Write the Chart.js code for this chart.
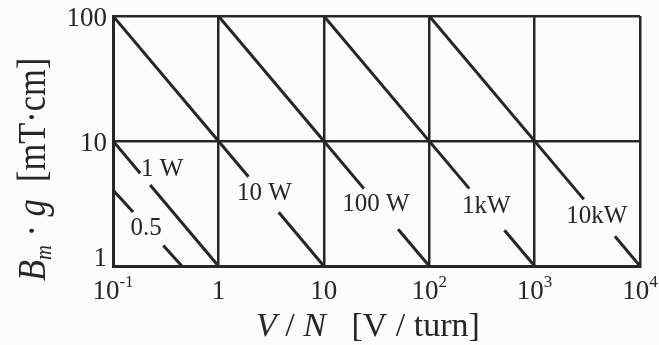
<!DOCTYPE html>
<html>
<head>
<meta charset="utf-8">
<script src="https://cdn.jsdelivr.net/npm/chart.js@4/dist/chart.umd.min.js"></script>
<style>
  html, body { margin: 0; padding: 0; background: #fcfcfc; }
  #wrap { width: 659px; height: 345px; }
</style>
</head>
<body>
<div id="wrap"><canvas id="chart"></canvas></div>
<script>
// decade ticks
const xTicks = [0.1, 1, 10, 100, 1000, 10000];
const yTicks = [1, 10, 100];
const xTickLabels = [['10', '-1'], ['1', ''], ['10', ''], ['10', '2'], ['10', '3'], ['10', '4']];
const yTickLabels = ['1', '10', '100'];

// power lines, null = gap for the label
const w05X = [0.1, 0.155, null, 0.30, 0.45];
const w05Y = [4.05, 2.7, null, 1.46, 1];
const w1X = [0.1, 0.181, null, 0.225, 1];
const w1Y = [10, 5.53, null, 4.45, 1];
const w10X = [0.1, 1, 1.93, null, 3.73, 10];
const w10Y = [100, 10, 5.18, null, 2.69, 1];
const w100X = [1, 10, 24.0, null, 50.7, 100];
const w100Y = [100, 10, 4.16, null, 1.97, 1];
const w1kX = [10, 240, null, 518, 1000];
const w1kY = [100, 4.16, null, 1.93, 1];
const w10kX = [100, 2930, null, 5780, 10000];
const w10kY = [100, 3.41, null, 1.73, 1];

const seriesNames = ['0.5', '1 W', '10 W', '100 W', '1kW', '10kW'];
// label anchors in data units
const labelX = [0.206, 0.293, 2.74, 31.3, 349, 3890];
const labelY = [1.98, 5.97, 3.84, 3.08, 3.02, 2.51];

const ink = '#262626';
const serif = '"Liberation Serif", "DejaVu Serif", serif';

function toPoints(xs, ys) {
  return xs.map((x, i) => ys[i] === null ? { x: xs[i - 1], y: null } : { x: x, y: ys[i] });
}

const allLines = [[w05X, w05Y], [w1X, w1Y], [w10X, w10Y], [w100X, w100Y], [w1kX, w1kY], [w10kX, w10kY]];
const datasets = allLines.map((pair, index) => {
  return {
    label: seriesNames[index],
    data: toPoints(pair[0], pair[1]),
    borderColor: ink,
    borderWidth: 3,
    pointRadius: 0,
    tension: 0,
    spanGaps: false
  }
});

// draws a run of [text, font, dy] pieces left to right
function drawRun(ctx, parts, x, y) {
  let cx = x;
  parts.forEach(p => {
    ctx.font = p[1];
    ctx.fillText(p[0], cx, y + (p[2] || 0));
    cx += ctx.measureText(p[0]).width;
  });
  return cx - x;
}
function runWidth(ctx, parts) {
  let w = 0;
  parts.forEach(p => { ctx.font = p[1]; w += ctx.measureText(p[0]).width; });
  return w;
}

const textPlugin = {
  id: 'textPlugin',
  beforeDraw(chart) {
    const ctx = chart.ctx;
    ctx.save();
    ctx.fillStyle = '#fcfcfc';
    ctx.fillRect(0, 0, chart.width, chart.height);
    ctx.restore();
  },
  afterDraw(chart) {
    const ctx = chart.ctx;
    const xs = chart.scales.x, ys = chart.scales.y;
    const area = chart.chartArea;
    ctx.save();
    ctx.fillStyle = ink;
    ctx.textBaseline = 'alphabetic';
    ctx.textAlign = 'left';

    // x tick labels with superscripts
    xTicks.forEach((v, i) => {
      const parts = [[xTickLabels[i][0], '27px ' + serif, 0]];
      if (xTickLabels[i][1]) parts.push([xTickLabels[i][1], '17px ' + serif, -12]);
      const w = runWidth(ctx, parts);
      drawRun(ctx, parts, xs.getPixelForValue(v) - w / 2, area.bottom + 33);
    });

    // y tick labels
    ctx.font = '27px ' + serif;
    ctx.textAlign = 'right';
    ctx.textBaseline = 'middle';
    yTicks.forEach((v, i) => {
      const py = Math.min(ys.getPixelForValue(v) + 3, area.bottom - 7);
      ctx.fillText(yTickLabels[i], area.left - 6, py);
    });

    // line labels
    ctx.font = '25px ' + serif;
    ctx.textAlign = 'center';
    seriesNames.forEach((name, i) => {
      ctx.fillText(name, xs.getPixelForValue(labelX[i]), ys.getPixelForValue(labelY[i]));
    });

    // x axis title
    ctx.textAlign = 'left';
    ctx.textBaseline = 'alphabetic';
    const xTitle = [
      ['V', 'italic 34px ' + serif, 0],
      [' / ', '34px ' + serif, 0],
      ['N', 'italic 34px ' + serif, 0],
      ['   [V / turn]', '34px ' + serif, 0]
    ];
    const tw = runWidth(ctx, xTitle);
    drawRun(ctx, xTitle, 368 - tw / 2, 336);

    // y axis title, rotated and a bit condensed
    ctx.save();
    ctx.translate(45, 281);
    ctx.rotate(-Math.PI / 2);
    ctx.scale(0.86, 1);
    drawRun(ctx, [
      ['B', 'italic 40px ' + serif, 0],
      ['m', 'italic 24px ' + serif, 6],
      [' · ', '40px ' + serif, 0],
      ['g', 'italic 40px ' + serif, 0],
      ['  [mT·cm]', '40px ' + serif, 0]
    ], 0, 0);
    ctx.restore();

    ctx.restore();
  }
};

new Chart(document.getElementById('chart'), {
  type: 'line',
  data: { datasets },
  options: {
    responsive: true,
    maintainAspectRatio: false,
    animation: false,
    layout: { padding: { left: 113, right: 19, top: 16, bottom: 79 } },
    plugins: { legend: { display: false }, tooltip: { enabled: false } },
    scales: {
      x: {
        type: 'logarithmic',
        min: 0.1,
        max: 10000,
        afterBuildTicks: scale => { scale.ticks = xTicks.map(v => ({ value: v })); },
        ticks: { display: false },
        grid: { color: ink, lineWidth: 2.5, drawTicks: false },
        border: { color: ink, width: 3 }
      },
      y: {
        type: 'logarithmic',
        min: 1,
        max: 100,
        afterBuildTicks: scale => { scale.ticks = yTicks.map(v => ({ value: v })); },
        ticks: { display: false },
        grid: { color: ink, lineWidth: 2.5, drawTicks: false },
        border: { color: ink, width: 3 }
      }
    }
  },
  plugins: [textPlugin]
});
</script>
</body>
</html>
